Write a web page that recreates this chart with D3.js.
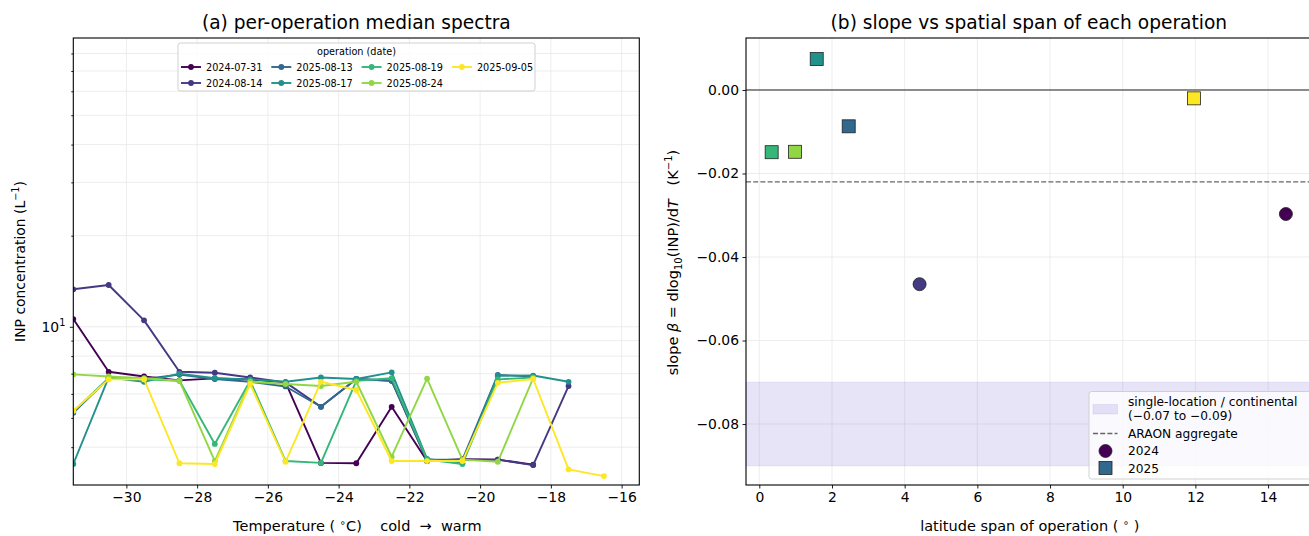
<!DOCTYPE html>
<html>
<head>
<meta charset="utf-8">
<script src="https://cdn.jsdelivr.net/npm/d3@7"></script>
<style>
  body { margin: 0; background: #fff; }
  svg { font-family: "DejaVu Sans", sans-serif; display: block; }
  .tick text { font-family: "DejaVu Sans", sans-serif; }
  .pre { white-space: pre; }
</style>
</head>
<body>
<script>
// ---- data ----
const temps = [-31.5, -30.5, -29.5, -28.5, -27.5, -26.5, -25.5, -24.5, -23.5, -22.5, -21.5, -20.5, -19.5, -18.5, -17.5, -16.5];

const operations = ["2024-07-31", "2024-08-14", "2025-08-13", "2025-08-17", "2025-08-19", "2025-08-24", "2025-09-05"];

const inp_0731 = [10.6, 7.1, 6.85, 6.65, 6.75, 6.7, 6.55, 3.55, 3.54, 5.44, 3.6, 3.65, 3.64, 3.5, null, null];
const inp_0814 = [13.3, 13.74, 10.5, 7.1, 7.05, 6.8, 6.55, 5.44, 6.72, 6.63, 3.6, 3.64, 3.64, 3.49, 6.37, null];
const inp_0813 = [5.2, 6.76, 6.72, 6.95, 6.72, 6.58, 6.35, 5.44, 6.72, 6.63, 3.64, 3.64, 6.93, 6.85, null, null];
const inp_0817 = [3.52, 6.8, 6.58, 7.0, 6.76, 6.7, 6.58, 6.8, 6.72, 7.07, 3.66, 3.54, 6.89, 6.9, 6.58, null];
const inp_0819 = [5.25, 6.76, 6.7, 6.63, 4.1, 6.63, 3.6, 3.55, 6.63, 6.76, 3.64, 3.52, 6.7, 6.8, null, null];
const inp_0824 = [6.96, 6.85, 6.76, 6.63, 3.6, 6.58, 6.47, 6.37, 6.58, 3.72, 6.74, 3.64, 3.58, 6.76, null, null];
const inp_0905 = [5.28, 6.7, 6.7, 3.54, 3.52, 6.47, 3.58, 6.58, 6.18, 3.6, 3.6, 3.6, 6.53, 6.72, 3.38, 3.21];

const spectra = [inp_0731, inp_0814, inp_0813, inp_0817, inp_0819, inp_0824, inp_0905];

// panel (b): latitude span and slope per operation
const latSpan = [14.49, 4.41, 2.46, 1.58, 0.34, 0.98, 11.96];
const slopeBeta = [-0.0297, -0.0465, -0.0087, 0.0074, -0.0149, -0.0148, -0.002];
const opYear = [2024, 2024, 2025, 2025, 2025, 2025, 2025];

const araonSlope = -0.022;
const continentalBand = [-0.09, -0.07];

const xTicksA = [-30, -28, -26, -24, -22, -20, -18, -16];
const yMinorA = [4, 5, 6, 7, 8, 9, 20, 30, 40, 50, 60, 70, 80];
const xTicksB = [0, 2, 4, 6, 8, 10, 12, 14];
const yTicksB = [-0.08, -0.06, -0.04, -0.02, 0.0];

const colorOf = i => d3.interpolateViridis(i / (operations.length - 1));

// ---- layout ----
const W = 1309, H = 536;
const gridColor = "#e8e8e8";
const tickFont = "13.9px";
const xlabFont = "14.5px";
const titleFont = "18.6px";

const svg = d3.select("body").append("svg")
    .attr("width", W)
    .attr("height", H);

svg.append("rect").attr("width", W).attr("height", H).attr("fill", "#fff");

// ===================== panel (a) =====================
const ax = { left: 73.3, right: 639.3, top: 38, bottom: 485 };

const xA = d3.scaleLinear().domain([-31.5, -15.5]).range([ax.left, ax.right]);
const yA = d3.scaleLog().domain([3, 90]).range([ax.bottom, ax.top]);

const gA = svg.append("g");

// grid
gA.selectAll(".vgrid")
  .data(xTicksA)
  .enter()
  .append("line")
  .attr("x1", d => xA(d)).attr("x2", d => xA(d))
  .attr("y1", ax.top).attr("y2", ax.bottom)
  .attr("stroke", gridColor).attr("stroke-width", 0.8);

gA.selectAll(".hgrid")
  .data(yMinorA.concat([10]))
  .enter()
  .append("line")
  .attr("x1", ax.left).attr("x2", ax.right)
  .attr("y1", d => yA(d)).attr("y2", d => yA(d))
  .attr("stroke", gridColor).attr("stroke-width", 0.8);

// clip for lines
svg.append("clipPath").attr("id", "clipA")
   .append("rect")
   .attr("x", ax.left).attr("y", ax.top)
   .attr("width", ax.right - ax.left).attr("height", ax.bottom - ax.top);

const lineGen = d3.line()
    .defined(d => d.v !== null)
    .x(d => xA(d.t))
    .y(d => yA(d.v));

const linesG = gA.append("g").attr("clip-path", "url(#clipA)");

spectra.forEach((vals, i) => {
    const pts = vals.map((v, j) => ({ t: temps[j], v: v }));
    linesG.append("path")
          .datum(pts)
          .attr("d", lineGen)
          .attr("fill", "none")
          .attr("stroke", colorOf(i))
          .attr("stroke-width", 1.9)
          .attr("stroke-linejoin", "round");

    linesG.selectAll(".pt" + i)
          .data(pts.filter(d => d.v !== null))
          .enter()
          .append("circle")
          .attr("cx", d => xA(d.t))
          .attr("cy", d => yA(d.v))
          .attr("r", 2.9)
          .attr("fill", colorOf(i));
});

// axes
gA.append("g")
  .attr("transform", `translate(0,${ax.bottom})`)
  .call(d3.axisBottom(xA).tickValues(xTicksA).tickSize(3.5).tickPadding(3.5));

gA.append("g")
  .attr("transform", `translate(${ax.left},0)`)
  .call(d3.axisLeft(yA).tickValues([10]).tickSize(3.5).tickFormat(() => ""));

gA.append("g")
  .attr("transform", `translate(${ax.left},0)`)
  .call(d3.axisLeft(yA).tickValues(yMinorA).tickSize(2).tickFormat(() => ""));

// 10^1 label
const lbl10 = gA.append("text")
    .attr("x", ax.left - 8)
    .attr("y", yA(10) + 5)
    .attr("text-anchor", "end")
    .style("font-size", tickFont);
lbl10.append("tspan").text("10");
lbl10.append("tspan").attr("dy", -6).style("font-size", "9.7px").text("1");

// frame
gA.append("rect")
  .attr("x", ax.left).attr("y", ax.top)
  .attr("width", ax.right - ax.left).attr("height", ax.bottom - ax.top)
  .attr("fill", "none").attr("stroke", "#000").attr("stroke-width", 1.1);

// title + labels
gA.append("text")
  .attr("x", (ax.left + ax.right) / 2).attr("y", 29)
  .attr("text-anchor", "middle")
  .style("font-size", titleFont)
  .text("(a) per-operation median spectra");

const xlabA = gA.append("text")
  .attr("class", "pre")
  .attr("x", (ax.left + ax.right) / 2 + 1).attr("y", 531)
  .attr("text-anchor", "middle")
  .style("font-size", xlabFont);
xlabA.append("tspan").text("Temperature ( ");
xlabA.append("tspan").attr("dy", -5).style("font-size", "10px").text("∘");
xlabA.append("tspan").attr("dy", 5).text("C)    cold  →  warm");

const ylabA = gA.append("text")
  .attr("transform", `translate(25,${(ax.top + ax.bottom) / 2}) rotate(-90)`)
  .attr("text-anchor", "middle")
  .style("font-size", tickFont);
ylabA.append("tspan").text("INP concentration (L");
ylabA.append("tspan").attr("dy", -6).style("font-size", "9.7px").text("−1");
ylabA.append("tspan").attr("dy", 6).text(")");

// legend (a)
const legA = gA.append("g");
legA.append("rect")
    .attr("x", 178).attr("y", 43).attr("width", 357).attr("height", 48)
    .attr("rx", 2.5)
    .attr("fill", "#fff").attr("fill-opacity", 0.8)
    .attr("stroke", "#cccccc").attr("stroke-width", 0.9);

legA.append("text")
    .attr("x", 356.5).attr("y", 55)
    .attr("text-anchor", "middle")
    .style("font-size", "9.7px")
    .text("operation (date)");

operations.forEach((op, i) => {
    const col = Math.floor(i / 2), row = i % 2;
    const x0 = 181 + col * 90.3;
    const y0 = 67 + row * 16;
    legA.append("line")
        .attr("x1", x0).attr("x2", x0 + 20)
        .attr("y1", y0).attr("y2", y0)
        .attr("stroke", colorOf(i)).attr("stroke-width", 1.9);
    legA.append("circle")
        .attr("cx", x0 + 10).attr("cy", y0).attr("r", 2.9)
        .attr("fill", colorOf(i));
    legA.append("text")
        .attr("x", x0 + 25).attr("y", y0 + 3.5)
        .style("font-size", "9.7px")
        .text(op);
});

// ===================== panel (b) =====================
const bx = { left: 746, right: 1311.7, top: 38, bottom: 485 };

const xB = d3.scaleLinear().domain([-0.366, 15.2]).range([bx.left, bx.right]);
const yB = d3.scaleLinear().domain([-0.0946, 0.01245]).range([bx.bottom, bx.top]);

const gB = svg.append("g");

gB.selectAll(".vgrid")
  .data(xTicksB)
  .enter()
  .append("line")
  .attr("x1", d => xB(d)).attr("x2", d => xB(d))
  .attr("y1", bx.top).attr("y2", bx.bottom)
  .attr("stroke", gridColor).attr("stroke-width", 0.8);

gB.selectAll(".hgrid")
  .data(yTicksB)
  .enter()
  .append("line")
  .attr("x1", bx.left).attr("x2", bx.right)
  .attr("y1", d => yB(d)).attr("y2", d => yB(d))
  .attr("stroke", gridColor).attr("stroke-width", 0.8);

// continental band
gB.append("rect")
  .attr("x", bx.left).attr("width", bx.right - bx.left)
  .attr("y", yB(continentalBand[1]))
  .attr("height", yB(continentalBand[0]) - yB(continentalBand[1]))
  .attr("fill", "#6a5acd").attr("fill-opacity", 0.16)
  .attr("stroke", "#6a5acd").attr("stroke-opacity", 0.12);

// zero line and ARAON aggregate
gB.append("line")
  .attr("x1", bx.left).attr("x2", bx.right)
  .attr("y1", yB(0)).attr("y2", yB(0))
  .attr("stroke", "#222").attr("stroke-width", 1);

gB.append("line")
  .attr("x1", bx.left).attr("x2", bx.right)
  .attr("y1", yB(araonSlope)).attr("y2", yB(araonSlope))
  .attr("stroke", "#666").attr("stroke-width", 1.3)
  .attr("stroke-dasharray", "5,2.2");

// points
latSpan.forEach((s, i) => {
    const cx = xB(s), cy = yB(slopeBeta[i]);
    if (opYear[i] === 2024) {
        gB.append("circle")
          .attr("cx", cx).attr("cy", cy).attr("r", 6.5)
          .attr("fill", colorOf(i))
          .attr("stroke", "#222").attr("stroke-width", 0.8);
    } else {
        gB.append("rect")
          .attr("x", cx - 6.5).attr("y", cy - 6.5)
          .attr("width", 13).attr("height", 13)
          .attr("fill", colorOf(i))
          .attr("stroke", "#222").attr("stroke-width", 0.8);
    }
});

gB.append("g")
  .attr("transform", `translate(0,${bx.bottom})`)
  .call(d3.axisBottom(xB).tickValues(xTicksB).tickSize(3.5).tickPadding(3.5).tickFormat(d3.format("d")));

gB.append("g")
  .attr("transform", `translate(${bx.left},0)`)
  .call(d3.axisLeft(yB).tickValues(yTicksB).tickSize(3.5).tickPadding(3.5).tickFormat(d3.format(".2f")));

gB.append("rect")
  .attr("x", bx.left).attr("y", bx.top)
  .attr("width", bx.right - bx.left).attr("height", bx.bottom - bx.top)
  .attr("fill", "none").attr("stroke", "#000").attr("stroke-width", 1.1);

gB.append("text")
  .attr("x", (bx.left + bx.right) / 2).attr("y", 29)
  .attr("text-anchor", "middle")
  .style("font-size", titleFont)
  .text("(b) slope vs spatial span of each operation");

const xlabB = gB.append("text")
  .attr("class", "pre")
  .attr("x", (bx.left + bx.right) / 2 + 1).attr("y", 531)
  .attr("text-anchor", "middle")
  .style("font-size", xlabFont);
xlabB.append("tspan").text("latitude span of operation ( ");
xlabB.append("tspan").attr("dy", -5).style("font-size", "10px").text("∘");
xlabB.append("tspan").attr("dy", 5).text(" )");

const ylabB = gB.append("text")
  .attr("class", "pre")
  .attr("transform", `translate(678,${(bx.top + bx.bottom) / 2 + 1}) rotate(-90)`)
  .attr("text-anchor", "middle")
  .style("font-size", xlabFont);
ylabB.append("tspan").text("slope ");
ylabB.append("tspan").style("font-style", "italic").text("β");
ylabB.append("tspan").text(" = dlog");
ylabB.append("tspan").attr("dy", 4).style("font-size", "10px").text("10");
ylabB.append("tspan").attr("dy", -4).text("(INP)/d");
ylabB.append("tspan").style("font-style", "italic").text("T");
ylabB.append("tspan").text("   (K");
ylabB.append("tspan").attr("dy", -6).style("font-size", "10px").text("−1");
ylabB.append("tspan").attr("dy", 6).text(")");

// legend (b)
const legB = gB.append("g");
legB.append("rect")
    .attr("x", 1089).attr("y", 391.5).attr("width", 240).attr("height", 87.5)
    .attr("rx", 2.5)
    .attr("fill", "#fff").attr("fill-opacity", 0.8)
    .attr("stroke", "#cccccc").attr("stroke-width", 0.9);

legB.append("rect")
    .attr("x", 1093).attr("y", 404.5).attr("width", 24.5).attr("height", 9.5)
    .attr("fill", "#6a5acd").attr("fill-opacity", 0.16)
    .attr("stroke", "#6a5acd").attr("stroke-opacity", 0.12);
legB.append("text").attr("x", 1128).attr("y", 406).style("font-size", "12.2px")
    .text("single-location / continental");
legB.append("text").attr("x", 1128).attr("y", 420).style("font-size", "12.2px")
    .text("(−0.07 to −0.09)");

legB.append("line")
    .attr("x1", 1093).attr("x2", 1117.5).attr("y1", 433.5).attr("y2", 433.5)
    .attr("stroke", "#666").attr("stroke-width", 1.3).attr("stroke-dasharray", "5,2.2");
legB.append("text").attr("x", 1128).attr("y", 437.5).style("font-size", "12.2px")
    .text("ARAON aggregate");

legB.append("circle")
    .attr("cx", 1105.5).attr("cy", 451).attr("r", 6.5)
    .attr("fill", colorOf(0)).attr("stroke", "#222").attr("stroke-width", 0.8);
legB.append("text").attr("x", 1128).attr("y", 455).style("font-size", "12.2px")
    .text("2024");

legB.append("rect")
    .attr("x", 1099).attr("y", 461.5).attr("width", 13).attr("height", 13)
    .attr("fill", colorOf(2)).attr("stroke", "#222").attr("stroke-width", 0.8);
legB.append("text").attr("x", 1128).attr("y", 472.5).style("font-size", "12.2px")
    .text("2025");

// style axes
svg.selectAll(".domain").remove();
svg.selectAll(".tick line").attr("stroke", "#000").attr("stroke-width", 0.9);
svg.selectAll(".tick text").style("font-size", tickFont).attr("fill", "#000");
</script>
</body>
</html>
